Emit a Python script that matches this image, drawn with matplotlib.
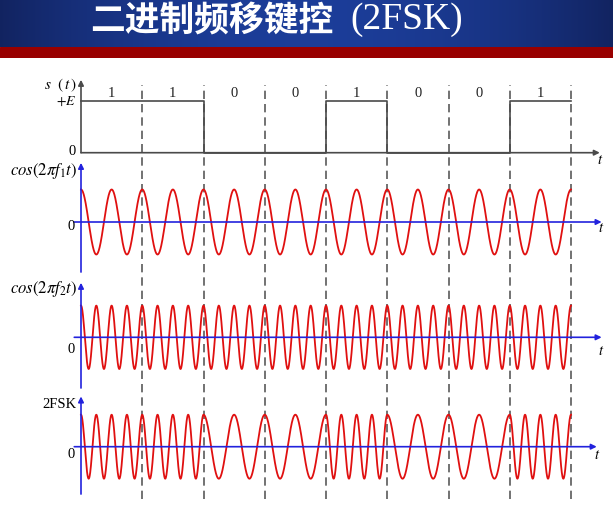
import numpy as np
import matplotlib.pyplot as plt

plt.rcParams['mathtext.fontset'] = 'stix'
plt.rcParams['font.family'] = ['Liberation Serif', 'DejaVu Serif']

# data
bits = [1, 1, 0, 0, 1, 0, 0, 1]
E = 1.0
f1_cycles = 2   # cycles per bit for f1
f2_cycles = 4   # cycles per bit for f2
title_cn = '二进制频移键控'
title_en = '(2FSK)'
panel_labels = [r'$s\ \ (\,t\,)$', r'$cos\left(2\pi f_1 t\right)$',
                r'$cos\left(2\pi f_2 t\right)$', '2FSK']

W, H = 613, 513
fig = plt.figure(figsize=(W / 100, H / 100), dpi=100)


def px_axes(left, top, right, bottom, z=1):
    ax = fig.add_axes([left / W, 1 - bottom / H, (right - left) / W, (bottom - top) / H])
    ax.set_axis_off()
    ax.patch.set_alpha(0)
    ax.set_zorder(z)
    return ax


# header bar
hdr = px_axes(0, 0, W, 47)
g = np.abs(np.linspace(-1, 1, 300))
c0 = np.array([0.11, 0.24, 0.60])
c1 = np.array([0.07, 0.14, 0.38])
grad = c0[None, :] * (1 - g[:, None] ** 2) + c1[None, :] * g[:, None] ** 2
hdr.imshow(grad[None, :, :], aspect='auto', extent=(0, 1, 0, 1))
hdr.set_xlim(0, 1)
hdr.set_ylim(0, 1)
hdr.text(333 / W, 0.55, title_cn, color='white', fontsize=25, fontweight='bold',
         family=['Noto Sans CJK SC'], ha='right', va='center')
hdr.text(350 / W, 0.58, title_en, color='white', fontsize=27,
         ha='left', va='center')
red = px_axes(0, 47, W, 58)
red.axhspan(0, 1, color='#990000')
red.set_ylim(0, 1)

# time axis mapping: t=0 at px 81, t=8 at px 571
x0_px, bit_px = 81, 61.25
AX_L, AX_R = 40, 612
xlim = ((AX_L - x0_px) / bit_px, (AX_R - x0_px) / bit_px)
nb = len(bits)
t = np.linspace(0, nb, 4000)
bit_at = np.array(bits)[np.minimum((t // 1).astype(int), nb - 1)]
s1 = np.cos(2 * np.pi * f1_cycles * t)
s2 = np.cos(2 * np.pi * f2_cycles * t)
fsk = np.where(bit_at == 1, s2, s1)

gray = '#4a4a4a'
blue = '#2222dd'
redc = '#e01010'


def arrow(ax, p0, p1, color):
    ax.annotate('', xy=p1, xytext=p0,
                arrowprops=dict(arrowstyle='-|>', color=color, lw=1.2,
                                mutation_scale=8, shrinkA=0, shrinkB=0))


def panel(top, bottom, zero_px, unit_px):
    ax = px_axes(AX_L, top, AX_R, bottom, z=3)
    ax.set_xlim(*xlim)
    ax.set_ylim((zero_px - bottom) / unit_px, (zero_px - top) / unit_px)
    return ax


# dashed bit boundaries
dash = px_axes(AX_L, 85, AX_R, 499, z=2)
dash.set_xlim(*xlim)
dash.set_ylim(0, 1)
for k in range(1, nb + 1):
    dash.axvline(k, color='#5a5a5a', lw=1.2, ls=(0, (5, 3)))

# panel 1: s(t)
ax1 = panel(70, 170, 152.7, 51.7)
edges = np.arange(nb + 1)
levels = np.array(bits + [bits[-1]]) * E
ax1.step(edges, levels, where='post', color=gray, lw=1.2)
arrow(ax1, (0, 0), (0, 1.41), gray)
arrow(ax1, (0, 0), (8.47, 0), gray)
for k, b in enumerate(bits):
    ax1.text(k + 0.5, 1.15, str(b), ha='center', va='center', fontsize=10.5, color='#222222')
ax1.text(-0.07, 1.31, panel_labels[0], ha='right', va='center', fontsize=11)
ax1.text(-0.07, 1.0, r'$+E$', ha='right', va='center', fontsize=10)
ax1.text(-0.08, 0.03, '0', ha='right', va='center', fontsize=10.5)
ax1.text(8.47, -0.16, r'$t$', ha='center', va='center', fontsize=10.5)

# panels 2-4
specs = [
    (s1, 160, 276, 222.0, 32.5, (-1.54, 1.82), 8.5, panel_labels[1], 1.58, -0.15, -0.2),
    (s2, 278, 392, 337.3, 31.7, (-1.6, 1.72), 8.5, panel_labels[2], 1.52, -0.37, -0.45),
    (fsk, 392, 502, 446.7, 32.0, (-1.48, 1.57), 8.42, panel_labels[3], 1.33, -0.24, -0.27),
]
for y, top, bot, zpx, upx, yax, xend, lab, laby, zy, ty in specs:
    ax = panel(top, bot, zpx, upx)
    ax.plot(t, y, color=redc, lw=1.3, zorder=3)
    arrow(ax, (0, yax[0]), (0, yax[1]), blue)
    arrow(ax, (-0.11, 0), (xend, 0), blue)
    fs = 10.5 if lab == '2FSK' else 12
    ax.text(-0.07, laby, lab, ha='right', va='center', fontsize=fs)
    ax.text(-0.1, zy, '0', ha='right', va='center', fontsize=10.5)
    ax.text(xend, ty, r'$t$', ha='center', va='center', fontsize=10.5)

fig.savefig('out.png', dpi=100)
